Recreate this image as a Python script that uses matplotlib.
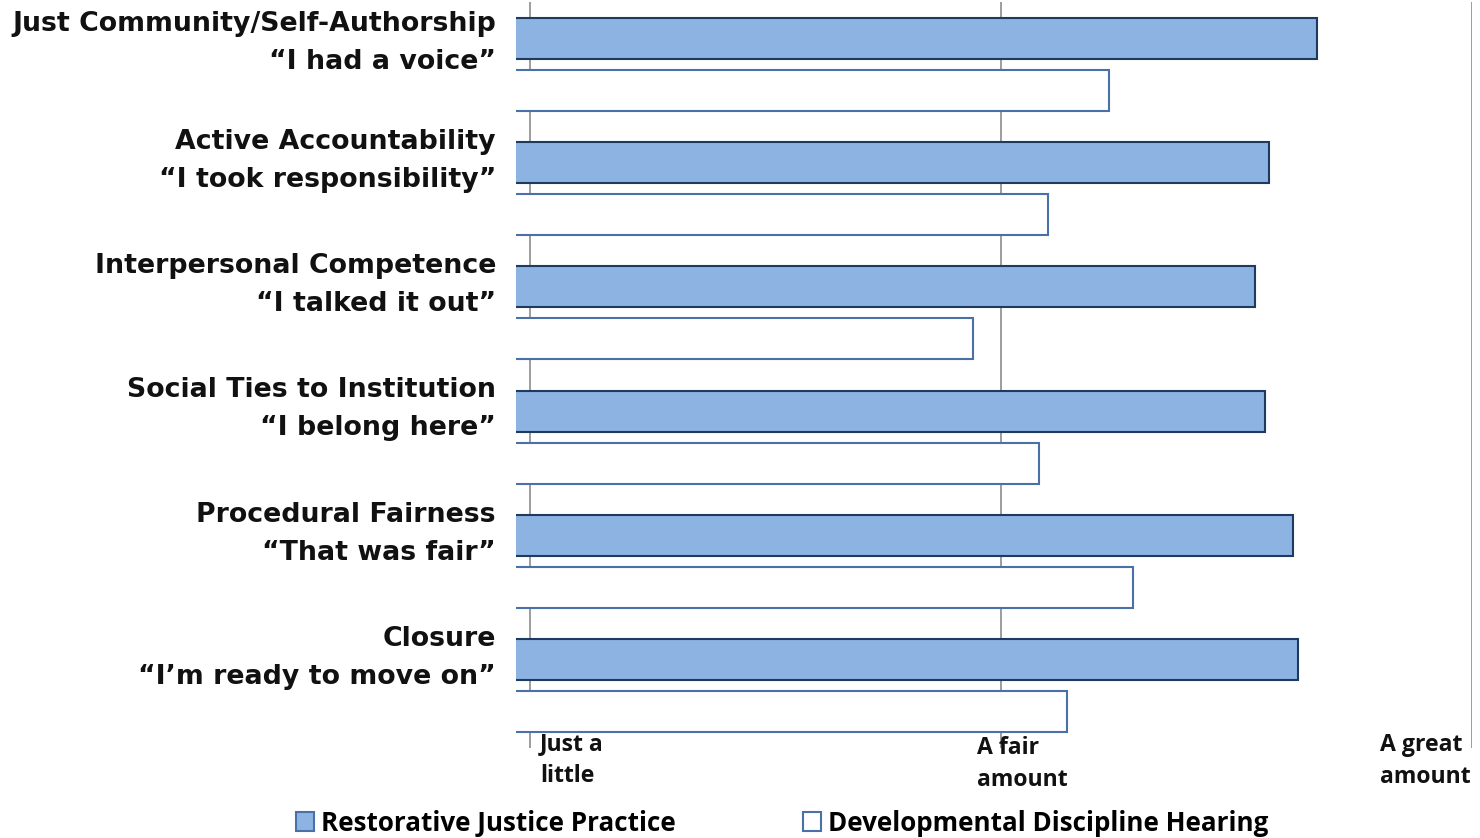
import matplotlib
matplotlib.use("Agg")
import matplotlib.pyplot as plt
import matplotlib.transforms as mtransforms
from matplotlib.patches import Patch
import numpy as np

categories = [
    ("Just Community/Self-Authorship", "\u201cI had a voice\u201d"),
    ("Active Accountability", "\u201cI took responsibility\u201d"),
    ("Interpersonal Competence", "\u201cI talked it out\u201d"),
    ("Social Ties to Institution", "\u201cI belong here\u201d"),
    ("Procedural Fairness", "\u201cThat was fair\u201d"),
    ("Closure", "\u201cI\u2019m ready to move on\u201d"),
]
restorative = [3.67, 3.57, 3.54, 3.56, 3.62, 3.63]
developmental = [3.23, 3.10, 2.94, 3.08, 3.28, 3.14]
tick_values = [2, 3, 4]
tick_labels = ["Just a\nlittle", "A fair\namount", "A great\namount"]
series_names = ["Restorative Justice Practice", "Developmental Discipline Hearing"]

W, H = 1480, 838
fig = plt.figure(figsize=(W / 100, H / 100), dpi=100)
ax = fig.add_axes([516 / W, (H - 748) / H, 956 / W, 746 / H])

y = np.arange(len(categories))
bar_h = 0.33
off = 0.21
rj_fill, rj_edge = "#8DB3E2", "#1F3A5F"
dd_fill, dd_edge = "#FFFFFF", "#4A70A8"

ax.barh(y - off, restorative, height=bar_h, left=0, color=rj_fill,
        edgecolor=rj_edge, linewidth=1.5, zorder=3)
ax.barh(y + off, developmental, height=bar_h, left=0, color=dd_fill,
        edgecolor=dd_edge, linewidth=1.5, zorder=3)

ax.set_xlim(1.97, 4.0)
ax.set_ylim(len(categories) - 0.5, -0.5)
for v in tick_values:
    ax.axvline(v, color="#8C8C8C", linewidth=1.2, zorder=1)
for s in ax.spines.values():
    s.set_visible(False)
ax.set_xticks([])
ax.set_yticks([])

# category labels
tr = mtransforms.blended_transform_factory(ax.transAxes, ax.transData)
for i, (l1, l2) in enumerate(categories):
    dy = -0.17 if i == 0 else -0.225
    ax.text(-0.021, i + dy, l1 + "\n" + l2, transform=tr, ha="right",
            va="center", fontsize=19.3, fontweight="bold",
            family="DejaVu Sans", linespacing=1.6, color="#111111")

# x tick labels
trx = mtransforms.blended_transform_factory(ax.transData, fig.transFigure)
dx_px = [10, -24, -92]
ys = [(H - 760) / H, (H - 764) / H, (H - 761) / H]
for v, lab, d, yy in zip(tick_values, tick_labels, dx_px, ys):
    t = mtransforms.offset_copy(trx, fig=fig, x=d, y=0, units="dots")
    ax.text(v, yy, lab, transform=t, ha="left", va="center",
            fontsize=16.6, fontweight="bold", family="Open Sans",
            linespacing=1.42, color="#111111")

handles = [Patch(facecolor=rj_fill, edgecolor=dd_edge, linewidth=1.5),
           Patch(facecolor=dd_fill, edgecolor=dd_edge, linewidth=1.5)]
leg = fig.legend(handles, series_names, loc="center",
                 bbox_to_anchor=(782 / W, (H - 823) / H), ncol=2,
                 frameon=False, handlelength=0.7, handleheight=0.7,
                 handletextpad=0.27, columnspacing=4.9, borderpad=0,
                 prop={"family": "Open Sans", "weight": "bold", "size": 18.7})

fig.savefig("out.png", dpi=100, facecolor="white")
